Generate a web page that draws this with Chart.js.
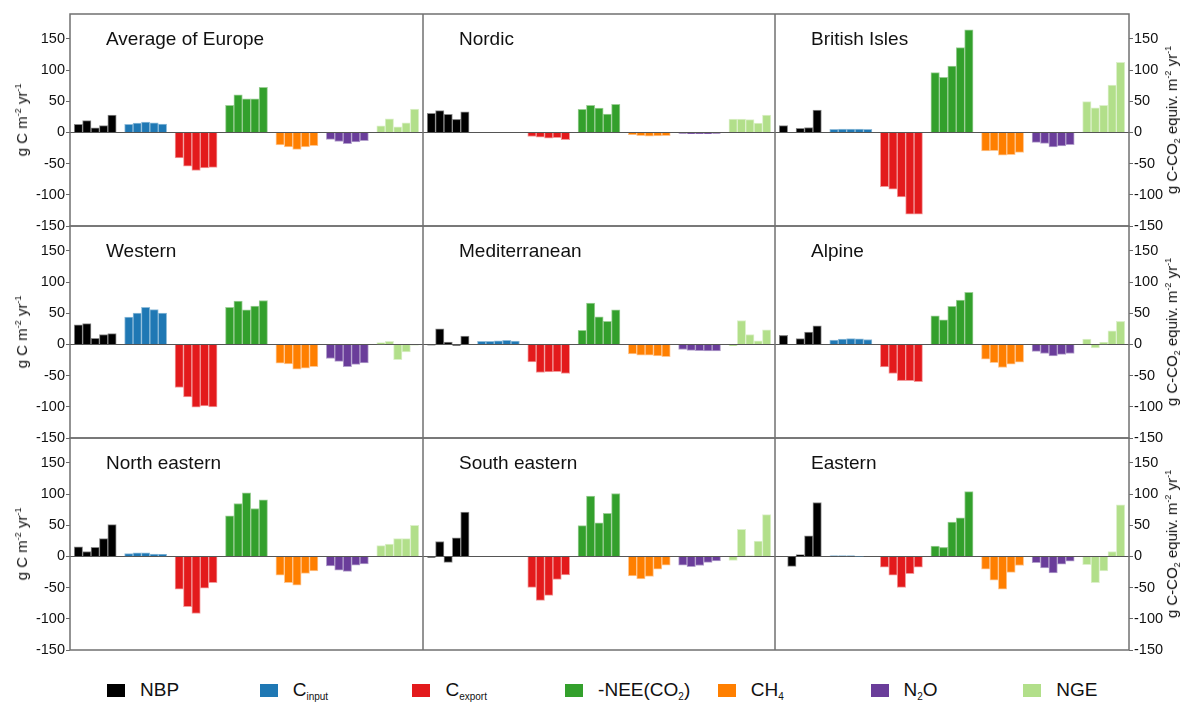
<!DOCTYPE html>
<html>
<head>
<meta charset="utf-8">
<script src="https://cdn.jsdelivr.net/npm/chart.js@4.4.1/dist/chart.umd.min.js"></script>
<style>
  body { margin: 0; background: #fff; font-family: Helvetica, Arial, "Liberation Sans", sans-serif; }
  #fig { position: relative; width: 1182px; height: 702px; overflow: hidden; }
  #fig canvas { position: absolute; }
  .ptitle { position: absolute; font-size: 19px; line-height: 19px; color: #111; white-space: nowrap; }
  .ytitle { position: absolute; font-size: 15px; line-height: 16px; color: #111; white-space: nowrap;
            transform: translate(-50%, -50%) rotate(-90deg); }
  .ytitle sup { font-size: 9px; vertical-align: 6px; line-height: 0; }
  .ytitle sub { font-size: 9px; vertical-align: -3px; line-height: 0; }
  .leg { position: absolute; top: 680px; height: 20px; display: flex; align-items: center;
         font-size: 19px; color: #111; white-space: nowrap; }
  .leg .box { width: 18px; height: 13px; margin-right: 15px; }
  .leg sub { font-size: 10px; vertical-align: -4px; line-height: 0; }
</style>
</head>
<body>
<div id="fig"></div>
<script>
// regions, in reading order of the 3x3 grid
const REGIONS = ["Average of Europe", "Nordic", "British Isles",
                 "Western", "Mediterranean", "Alpine",
                 "North eastern", "South eastern", "Eastern"];

// one row per region, five bars each (null = no bar)
const NBP = [
  [13, 19, 7.5, 11, 28],
  [30.5, 35, 29, 21, 33],
  [11, null, 6.5, 8, 36],
  [31.5, 33.5, 10, 16, 17.5],
  [-1, 25, 4, -1.5, 13.5],
  [14.5, null, 9.5, 20, 30],
  [15.5, 8, 14.5, 28.5, 51],
  [-1.5, 24, -9.5, 30, 71],
  [null, -16, 3, 33, 86.5]
];
const C_INPUT = [
  [13, 15, 16.5, 15.5, 13.5],
  [null, null, null, null, null],
  [5, 5.5, 5.5, 5.5, 5],
  [44, 50.5, 59.5, 56, 50.5],
  [5, 5, 6, 6.5, 5.5],
  [7, 8.5, 9.5, 9, 8],
  [4.5, 6, 6, 4, 3.5],
  [null, null, null, null, null],
  [1, 1, 1, 0.5, null]
];
const C_EXPORT = [
  [-41, -54, -61, -57, -56],
  [-6.5, -7.5, -9, -8.5, -11.5],
  [-87, -91, -103.5, -131, -131],
  [-69, -84, -100.5, -98.5, -100],
  [-28, -45, -44, -43.5, -46.5],
  [-36, -46.5, -58, -58, -59.5],
  [-52.5, -80.5, -91.5, -51, -42],
  [-49.5, -70.5, -62.5, -37, -29.5],
  [-17, -30, -49.5, -27.5, -17]
];
const NEE = [
  [43.5, 60.5, 54, 54, 72.5],
  [37, 43.5, 39, 29.5, 45],
  [96, 88.5, 106.5, 136, 164.5],
  [59.5, 69.5, 55.5, 61.5, 70.5],
  [22.5, 66.5, 44.5, 37, 55.5],
  [46, 39.5, 61, 71, 83.5],
  [65, 85, 102, 77, 91],
  [49.5, 97, 54, 69, 101],
  [16.5, 14.5, 55, 62, 104]
];
const CH4 = [
  [-20, -23, -27, -23, -21],
  [-3.5, -5, -6, -5.5, -5],
  [-29.5, -29, -36.5, -35.5, -32],
  [-30, -31, -39.5, -38, -35.5],
  [-15, -17, -17, -18.5, -19.5],
  [-23.5, -29, -37, -31.5, -28.5],
  [-30, -42, -46, -27, -23],
  [-31, -36, -32, -20.5, -14],
  [-20.5, -38, -52.5, -25.5, -14.5]
];
const N2O = [
  [-11, -14.5, -18, -15, -13],
  [-1.5, -2, -2, -2, -1.5],
  [-16, -17.5, -23, -21.5, -19.5],
  [-22.5, -27, -35.5, -32, -29.5],
  [-8, -9.5, -10, -10.5, -10.5],
  [-11, -14.5, -18.5, -16, -14.5],
  [-15, -22, -24, -14, -12],
  [-14, -16.5, -14.5, -9.5, -7],
  [-10, -18.5, -26.5, -12.5, -7.5]
];
const NGE = [
  [10.5, 22, 9, 15.5, 37.5],
  [21.5, 21.5, 20.5, 15, 28],
  [49.5, 39.5, 43.5, 76, 112.5],
  [3, 5, -24.5, -12, -1],
  [-2, 38.5, 16, 6, 23.5],
  [8.5, -5.5, 3.5, 22, 37],
  [17.5, 20, 28.5, 28.5, 50],
  [-6.5, 43.5, 1, 24.5, 67],
  [-13, -42, -23, 8, 83]
];

const SERIES = [NBP, C_INPUT, C_EXPORT, NEE, CH4, N2O, NGE];
const SERIES_LABELS = ["NBP", "C<sub>input</sub>", "C<sub>export</sub>", "-NEE(CO<sub>2</sub>)",
                       "CH<sub>4</sub>", "N<sub>2</sub>O", "NGE"];
const COLORS  = ["#000000", "#1f78b4", "#e31a1c", "#33a02c", "#ff7f00", "#6a3d9a", "#b2df8a"];
const EDGES   = ["#8a8a8a", "#8fbcda", "#f29a9b", "#9ccf96", "#ffc690", "#b3a0cc", "#dcf0ca"];
const Y_MIN = -150, Y_MAX = 190, Y_STEP = 50;

// layout of the grid (page pixels)
const COL_X = [70, 423, 775, 1129];
const ROW_Y = [14, 226, 438, 650];
const PAD = 12;
const FONT = 'Helvetica, Arial, "Liberation Sans", sans-serif';

const fig = document.getElementById("fig");

// panel frame drawn round the plot area
const framePlugin = {
  id: "frame",
  afterDraw(chart) {
    const a = chart.chartArea, c = chart.ctx;
    c.save();
    c.strokeStyle = "#707070";
    c.lineWidth = 1.5;
    c.strokeRect(a.left, a.top, a.right - a.left, a.bottom - a.top);
    c.restore();
  }
};

REGIONS.forEach((name, r) => {
  const row = Math.floor(r / 3), col = r % 3;
  const left = col === 0 ? 0 : COL_X[col];
  const right = col === 2 ? 1182 : COL_X[col + 1];
  const axisW = col === 0 ? COL_X[0] : col === 2 ? 1182 - COL_X[3] : 0;

  const canvas = document.createElement("canvas");
  canvas.width = right - left;
  canvas.height = ROW_Y[row + 1] - ROW_Y[row] + 2 * PAD;
  canvas.style.left = left + "px";
  canvas.style.top = (ROW_Y[row] - PAD) + "px";
  fig.appendChild(canvas);

  const datasets = SERIES.map((s, k) => ({
    data: s[r].map((v, j) => ({ x: k * 6 + j, y: v })),
    backgroundColor: COLORS[k],
    borderColor: EDGES[k],
    borderWidth: 1,
    barPercentage: 1,
    categoryPercentage: 1
  }));

  new Chart(canvas, {
    type: "bar",
    data: { datasets },
    options: {
      responsive: false,
      animation: false,
      layout: { padding: { top: PAD, bottom: PAD, left: 0, right: 0 } },
      plugins: { legend: { display: false }, tooltip: { enabled: false } },
      scales: {
        x: { type: "linear", min: -1, max: 40 + 1, offset: false, stacked: true, display: false },
        y: {
          position: col === 2 ? "right" : "left",
          stacked: true,
          min: Y_MIN, max: Y_MAX,
          border: { display: false },
          grid: {
            drawTicks: col !== 1,
            tickLength: 4,
            tickColor: "#666",
            color: (c) => (c.tick && c.tick.value === 0 ? "#555" : "rgba(0,0,0,0)"),
            lineWidth: 1
          },
          ticks: {
            display: col !== 1,
            stepSize: Y_STEP,
            includeBounds: false,
            padding: 1,
            color: "#111",
            font: { size: 14.5, family: FONT }
          },
          afterFit: (s) => { s.width = axisW; }
        }
      }
    },
    plugins: [framePlugin]
  });

  const t = document.createElement("div");
  t.className = "ptitle";
  t.textContent = name;
  t.style.left = (COL_X[col] + 36) + "px";
  t.style.top = (ROW_Y[row] + 14.5) + "px";
  fig.appendChild(t);

  const cy = (ROW_Y[row] + ROW_Y[row + 1]) / 2;
  if (col === 0) {
    const y = document.createElement("div");
    y.className = "ytitle";
    y.innerHTML = "g C m<sup>-2</sup> yr<sup>-1</sup>";
    y.style.left = "22px";
    y.style.top = cy + "px";
    fig.appendChild(y);
  } else if (col === 2) {
    const y = document.createElement("div");
    y.className = "ytitle";
    y.innerHTML = "g C-CO<sub>2</sub> equiv. m<sup>-2</sup> yr<sup>-1</sup>";
    y.style.left = "1172px";
    y.style.top = cy + "px";
    fig.appendChild(y);
  }
});

// legend
SERIES_LABELS.forEach((lab, k) => {
  const d = document.createElement("div");
  d.className = "leg";
  d.style.left = (107 + k * 152.7) + "px";
  d.innerHTML = '<div class="box" style="background:' + COLORS[k] + '"></div><span>' + lab + "</span>";
  fig.appendChild(d);
});
</script>
</body>
</html>
